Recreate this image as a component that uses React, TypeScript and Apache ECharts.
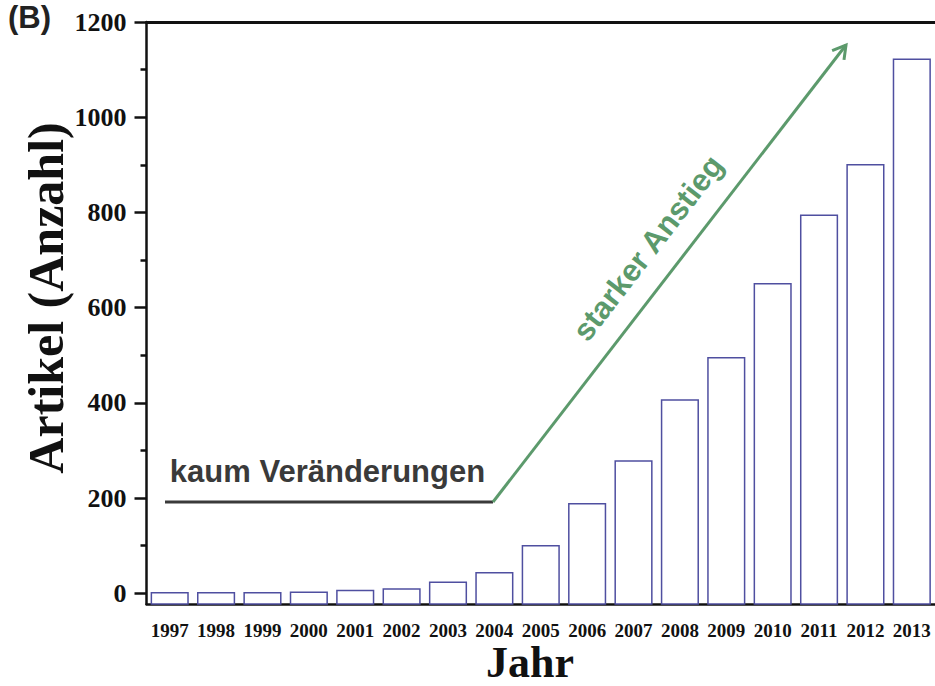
import React, { useEffect, useRef } from "react";
import * as echarts from "echarts";

const years = ["1997","1998","1999","2000","2001","2002","2003","2004","2005","2006","2007","2008","2009","2010","2011","2012","2013"];
const articles = [1, 1, 1, 2, 6, 9, 23, 43, 100, 188, 278, 406, 495, 650, 794, 900, 1122];
const majorTicks = [0, 200, 400, 600, 800, 1000, 1200];
const minorTicks = [100, 300, 500, 700, 900, 1100];
const Y_MIN = -22.5;
const Y_MAX = 1200;

const SERIF = "'Liberation Serif', 'Times New Roman', serif";
const SANS = "'Liberation Sans', Arial, sans-serif";
const GREEN = "#5c9a6c";
const DARK = "#3a3a3a";

function arrowHead(x1: number, y1: number, x2: number, y2: number, len: number, ang: number) {
  const dx = x2 - x1, dy = y2 - y1;
  const L = Math.hypot(dx, dy);
  const bx = -dx / L, by = -dy / L;
  const pts: number[][] = [];
  for (const s of [1, -1]) {
    const a = s * ang;
    const rx = bx * Math.cos(a) - by * Math.sin(a);
    const ry = bx * Math.sin(a) + by * Math.cos(a);
    pts.push([x2 + rx * len, y2 + ry * len]);
  }
  return [pts[0], [x2, y2], pts[1]];
}

export default function App() {
  const ref = useRef<HTMLDivElement>(null);
  useEffect(() => {
    if (!ref.current) return;
    const chart = echarts.init(ref.current, undefined, { renderer: "svg" });
    const ax1 = 493, ay1 = 502, ax2 = 846, ay2 = 45;
    const ang = Math.atan2(ay1 - ay2, ax2 - ax1);
    chart.setOption({
      animation: false,
      backgroundColor: "#ffffff",
      grid: { left: 146.5, right: -4, top: 22, bottom: 82, containLabel: false },
      xAxis: [
        {
          type: "category",
          data: years,
          boundaryGap: true,
          axisLine: { onZero: false, lineStyle: { color: "#111", width: 2.5 } },
          axisTick: { alignWithLabel: true, length: 10, lineStyle: { color: "#111", width: 2.5 } },
          axisLabel: { interval: 0, margin: 18, lineHeight: 17, fontFamily: SERIF, fontWeight: "bold", fontSize: 19, color: "#111" },
          splitLine: { show: false },
        },
        {
          type: "category",
          data: years,
          position: "top",
          axisLine: { show: true, onZero: false, lineStyle: { color: "#111", width: 3 } },
          axisTick: { show: false },
          axisLabel: { show: false },
          splitLine: { show: false },
        },
      ],
      yAxis: [
        {
          type: "value",
          min: Y_MIN,
          max: Y_MAX,
          axisLine: { show: true, onZero: false, lineStyle: { color: "#111", width: 2.5 } },
          axisTick: { show: true, length: 12, customValues: majorTicks, lineStyle: { color: "#111", width: 2.5 } },
          axisLabel: {
            customValues: majorTicks,
            formatter: (v: number) => String(Math.round(v)),
            margin: 20,
            fontFamily: SERIF,
            fontWeight: "bold",
            fontSize: 26,
            color: "#111",
          },
          splitLine: { show: false },
        },
        {
          type: "value",
          min: Y_MIN,
          max: Y_MAX,
          position: "left",
          axisLine: { show: false, onZero: false },
          axisTick: { show: true, length: 6, customValues: minorTicks, lineStyle: { color: "#111", width: 2.5 } },
          axisLabel: { show: false, customValues: minorTicks },
          splitLine: { show: false },
        },
      ],
      series: [
        {
          type: "custom",
          xAxisIndex: 0,
          yAxisIndex: 0,
          encode: { x: 0, y: 1 },
          data: articles.map((v, i) => [i, v]),
          z: 1,
          renderItem: (params: any, api: any) => {
            const xi = api.value(0);
            const v = api.value(1);
            const top = api.coord([xi, v]);
            const bot = api.coord([xi, Y_MIN]);
            const w = api.size([1, 0])[0] * 0.79;
            return {
              type: "rect",
              shape: { x: top[0] - w / 2, y: top[1], width: w, height: bot[1] - top[1] },
              style: { fill: "#ffffff", stroke: "#4f4fa0", lineWidth: 1.5 },
            };
          },
        },
      ],
      graphic: [
        {
          type: "text",
          left: 8,
          top: 2,
          style: { text: "(B)", font: `bold 31px ${SANS}`, fill: "#222" },
        },
        {
          type: "text",
          x: 46,
          y: 298,
          rotation: Math.PI / 2,
          style: { text: "Artikel (Anzahl)", font: `bold 50px ${SERIF}`, fill: "#111", align: "center", verticalAlign: "middle" },
        },
        {
          type: "text",
          x: 530,
          y: 662,
          style: { text: "Jahr", font: `bold 44px ${SERIF}`, lineHeight: 36, fill: "#111", align: "center", verticalAlign: "middle" },
        },
        {
          type: "line",
          shape: { x1: 165, y1: 502, x2: ax1, y2: ay1 },
          style: { stroke: DARK, lineWidth: 3 },
        },
        {
          type: "text",
          x: 327.5,
          y: 471,
          style: { text: "kaum Veränderungen", font: `bold 31px ${SANS}`, fill: DARK, align: "center", verticalAlign: "middle" },
        },
        {
          type: "line",
          shape: { x1: ax1, y1: ay1, x2: ax2, y2: ay2 },
          style: { stroke: GREEN, lineWidth: 3 },
        },
        {
          type: "polyline",
          shape: { points: arrowHead(ax1, ay1, ax2, ay2, 15, Math.PI / 6) },
          style: { stroke: GREEN, lineWidth: 3, fill: "none" },
        },
        {
          type: "text",
          x: 648,
          y: 248,
          rotation: ang,
          style: { text: "starker Anstieg", font: `bold 31px ${SANS}`, fill: GREEN, align: "center", verticalAlign: "middle" },
        },
      ],
    });
    return () => chart.dispose();
  }, []);
  return <div ref={ref} style={{ position: "fixed", left: 0, top: 0, width: 935, height: 686 }} />;
}
